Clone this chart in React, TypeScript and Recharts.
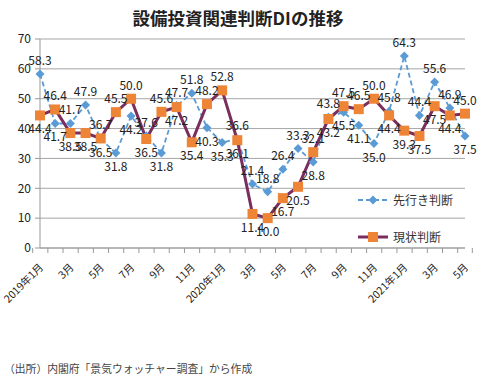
import React from 'react';
import { LineChart, Line, XAxis, YAxis, CartesianGrid } from 'recharts';

const categories = [
  '2019年1月', '2月', '3月', '4月', '5月', '6月', '7月', '8月', '9月', '10月', '11月', '12月',
  '2020年1月', '2月', '3月', '4月', '5月', '6月', '7月', '8月', '9月', '10月', '11月', '12月',
  '2021年1月', '2月', '3月', '4月', '5月',
];

const outlook = [
  58.3, 41.7, 41.7, 47.9, 36.5, 31.8, 44.2, 37.6, 31.8, 47.7, 51.8, 40.3,
  35.3, 36.6, 21.4, 18.8, 26.4, 33.3, 28.8, 43.8, 45.5, 41.1, 35.0, 45.8,
  64.3, 44.4, 55.6, 46.9, 37.5,
];

const current = [
  44.4, 46.4, 38.5, 38.5, 36.7, 45.5, 50.0, 36.5, 45.6, 47.2, 35.4, 48.2,
  52.8, 36.1, 11.4, 10.0, 16.7, 20.5, 32.1, 43.2, 47.5, 46.5, 50.0, 44.4,
  39.3, 37.5, 47.5, 44.4, 45.0,
];

const yTicks = [0, 10, 20, 30, 40, 50, 60, 70];

const data = categories.map((m, i) => ({ month: m, outlook: outlook[i], current: current[i] }));

const FONT = '"Noto Sans CJK JP", "Noto Sans", sans-serif';
const BLUE = '#5B9BD5';
const MAROON = '#7A2E5E';
const ORANGE = '#EE8536';

const PLOT_LEFT = 40;
const PLOT_RIGHT = 465;
const BW = (PLOT_RIGHT - PLOT_LEFT) / categories.length;

const XTick = (props: any) => {
  const { x, y, payload, index } = props;
  const i = index ?? payload.index;
  const bx = x - BW / 2;
  const ax = x + 4;
  const ay = y + 20;
  return (
    <g>
      <line x1={bx} y1={y} x2={bx} y2={y + 5} stroke="#999" />
      {i === categories.length - 1 && (
        <line x1={x + BW / 2} y1={y} x2={x + BW / 2} y2={y + 5} stroke="#999" />
      )}
      {i % 2 === 0 && (
        <text
          x={ax}
          y={ay}
          textAnchor="end"
          fontSize={10.5}
          fontFamily={FONT}
          fill="#222"
          transform={`rotate(-45, ${ax}, ${ay})`}
        >
          {payload.value}
        </text>
      )}
    </g>
  );
};

const makeLabel = (own: number[], other: number[]) => (props: any) => {
  const { x, y, index } = props;
  const v = own[index];
  const above = v >= other[index];
  return (
    <text
      key={`l${index}`}
      x={x}
      y={above ? y - 9 : y + 18}
      textAnchor="middle"
      fontSize={12}
      fontFamily={FONT}
      fill="#222"
    >
      {v.toFixed(1)}
    </text>
  );
};

const Diamond = (props: any) => {
  const { cx, cy, index } = props;
  const s = 4.5;
  return (
    <path
      key={`d${index}`}
      d={`M${cx},${cy - s} L${cx + s},${cy} L${cx},${cy + s} L${cx - s},${cy} Z`}
      fill={BLUE}
    />
  );
};

const Square = (props: any) => {
  const { cx, cy, index } = props;
  const s = 5;
  return <rect key={`s${index}`} x={cx - s} y={cy - s} width={2 * s} height={2 * s} fill={ORANGE} />;
};

const LegendBox = () => (
  <svg
    width={130}
    height={60}
    style={{ position: 'absolute', left: 355, top: 190, overflow: 'visible' }}
  >
    <line x1={3} y1={10} x2={33} y2={10} stroke={BLUE} strokeWidth={1.8} strokeDasharray="5 3" />
    <path d="M18,5.5 L22.5,10 L18,14.5 L13.5,10 Z" fill={BLUE} />
    <text x={38} y={14.5} fontSize={12} fontFamily={FONT} fill="#333">先行き判断</text>
    <line x1={3} y1={47} x2={33} y2={47} stroke={MAROON} strokeWidth={3} />
    <rect x={13} y={42} width={10} height={10} fill={ORANGE} />
    <text x={38} y={51.5} fontSize={12} fontFamily={FONT} fill="#333">現状判断</text>
  </svg>
);

export default function App() {
  return (
    <div style={{ position: 'absolute', left: 0, top: 0, width: 500, height: 381, background: '#fff' }}>
      <div
        style={{
          position: 'absolute',
          left: 0,
          top: 6,
          width: 476,
          textAlign: 'center',
          fontFamily: FONT,
          fontWeight: 700,
          fontSize: 17.5,
          color: '#222',
          lineHeight: '24px',
        }}
      >
        設備投資関連判断DIの推移
      </div>
      <LineChart
        width={500}
        height={381}
        data={data}
        margin={{ top: 39, right: 500 - PLOT_RIGHT, bottom: 73, left: 0 }}
      >
        <CartesianGrid vertical={false} stroke="#A6A6A6" />
        <XAxis
          dataKey="month"
          interval={0}
          tickLine={false}
          tickSize={0}
          tickMargin={0}
          axisLine={{ stroke: '#999' }}
          tick={<XTick />}
          height={60}
        />
        <YAxis
          domain={[0, 70]}
          ticks={yTicks}
          width={PLOT_LEFT}
          tickSize={5}
          tickMargin={4}
          axisLine={{ stroke: '#999' }}
          tickLine={{ stroke: '#999' }}
          tick={{ fontSize: 12, fontFamily: FONT, fill: '#222' }}
        />
        <Line
          dataKey="outlook"
          name="先行き判断"
          stroke={BLUE}
          strokeWidth={1.8}
          strokeDasharray="5 3"
          dot={Diamond}
          activeDot={false}
          label={makeLabel(outlook, current)}
          isAnimationActive={false}
        />
        <Line
          dataKey="current"
          name="現状判断"
          stroke={MAROON}
          strokeWidth={3}
          dot={Square}
          activeDot={false}
          label={makeLabel(current, outlook)}
          isAnimationActive={false}
        />
      </LineChart>
      <LegendBox />
      <div
        style={{
          position: 'absolute',
          left: 4,
          top: 360,
          fontFamily: FONT,
          fontSize: 10.8,
          color: '#444',
          lineHeight: '16px',
          whiteSpace: 'nowrap',
        }}
      >
        （出所）内閣府「景気ウォッチャー調査」から作成
      </div>
    </div>
  );
}
